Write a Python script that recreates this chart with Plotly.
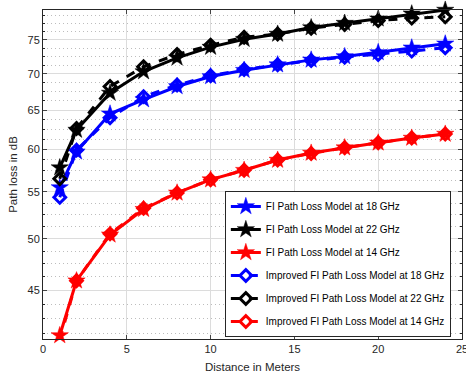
import plotly.graph_objects as go

distance = [1, 2, 4, 6, 8, 10, 12, 14, 16, 18, 20, 22, 24]

fi_18 = [55.5, 59.7, 64.5, 66.4, 68.2, 69.6, 70.5, 71.3, 72.0, 72.5, 73.1, 73.8, 74.4]
fi_22 = [57.8, 62.4, 67.3, 70.3, 72.3, 73.9, 75.1, 75.9, 76.9, 77.6, 78.3, 79.1, 79.7]
fi_14 = [41.05, 45.9, 50.4, 53.1, 54.9, 56.4, 57.5, 58.7, 59.55, 60.2, 60.8, 61.4, 61.9]

imp_18 = [54.4, 59.9, 64.0, 66.8, 68.4, 69.7, 70.6, 71.3, 71.9, 72.4, 72.8, 73.3, 73.8]
imp_22 = [56.5, 62.6, 68.2, 71.0, 72.8, 74.2, 75.4, 75.9, 76.8, 77.4, 78.0, 78.4, 78.6]
imp_14 = [40.7, 45.9, 50.5, 53.2, 54.9, 56.4, 57.5, 58.7, 59.5, 60.2, 60.8, 61.4, 61.9]

y_ticks = [45, 50, 55, 60, 65, 70, 75]
y_minor = [41.25, 42.5, 43.75, 46.25, 47.5, 48.75, 51.25, 52.5, 53.75,
           56.25, 57.5, 58.75, 61.25, 62.5, 63.75, 66.25, 67.5, 68.75,
           71.25, 72.5, 73.75, 76.25, 77.5, 78.75]
x_ticks = [0, 5, 10, 15, 20, 25]

series = [
    ("FI Path Loss Model at 18 GHz", fi_18, "#0000ff", "solid", "star"),
    ("FI Path Loss Model at 22 GHz", fi_22, "#000000", "solid", "star"),
    ("FI Path Loss Model at 14 GHz", fi_14, "#ff0000", "solid", "star"),
    ("Improved FI Path Loss Model at 18 GHz", imp_18, "#0000ff", "dash", "diamond-open"),
    ("Improved FI Path Loss Model at 22 GHz", imp_22, "#000000", "dash", "diamond-open"),
    ("Improved FI Path Loss Model at 14 GHz", imp_14, "#ff0000", "dash", "diamond-open"),
]

fig = go.Figure()
for i, (name, vals, col, dash, sym) in enumerate(series):
    if sym == "star":
        marker = dict(symbol=sym, size=13, color=col, line=dict(width=0.5, color=col))
    else:
        marker = dict(symbol=sym, size=9, color=col, line=dict(width=3, color=col))
    fig.add_trace(go.Scatter(
        x=distance, y=vals, name=name, mode="lines+markers",
        line=dict(color=col, width=3, dash=dash),
        marker=marker, legendgroup=f"g{i}", cliponaxis=False,
    ))

axis_col = "#262626"
fig.update_layout(
    width=466, height=381,
    margin=dict(l=43, r=4, t=10, b=42),
    paper_bgcolor="white", plot_bgcolor="white",
    font=dict(family="Liberation Sans, Arial, sans-serif", size=11, color=axis_col),
    showlegend=True,
    legend=dict(
        x=0.434, y=0.45, xanchor="left", yanchor="top",
        bgcolor="white", bordercolor=axis_col, borderwidth=1,
        font=dict(size=10, color="#000000"),
        traceorder="grouped", tracegroupgap=4,
    ),
    xaxis=dict(
        range=[0, 25], tickvals=x_ticks, ticks="inside", ticklen=4,
        showline=True, linecolor=axis_col, linewidth=1, mirror="ticks",
        showgrid=True, gridcolor="#dcdcdc", gridwidth=1, zeroline=False,
        automargin=False, ticklabeloverflow="allow",
        title=dict(text="Distance in Meters", font=dict(size=11.5), standoff=8),
    ),
    yaxis=dict(
        type="log", range=[1.6102, 1.9015], tickvals=y_ticks,
        ticktext=[str(v) for v in y_ticks],
        ticks="inside", ticklen=4,
        showline=True, linecolor=axis_col, linewidth=1, mirror="ticks",
        showgrid=True, gridcolor="#dcdcdc", gridwidth=1, zeroline=False,
        automargin=False,
        minor=dict(tickmode="array", tickvals=y_minor, ticks="inside", ticklen=2,
                   tickcolor=axis_col, showgrid=True, gridcolor="#bdbdbd",
                   griddash="1px,3px", gridwidth=1),
        title=dict(text="Path loss in dB", font=dict(size=11.5), standoff=7),
    ),
)

fig.write_html("out.html", config={"displayModeBar": False},
               post_script="document.body.style.margin='0';")
